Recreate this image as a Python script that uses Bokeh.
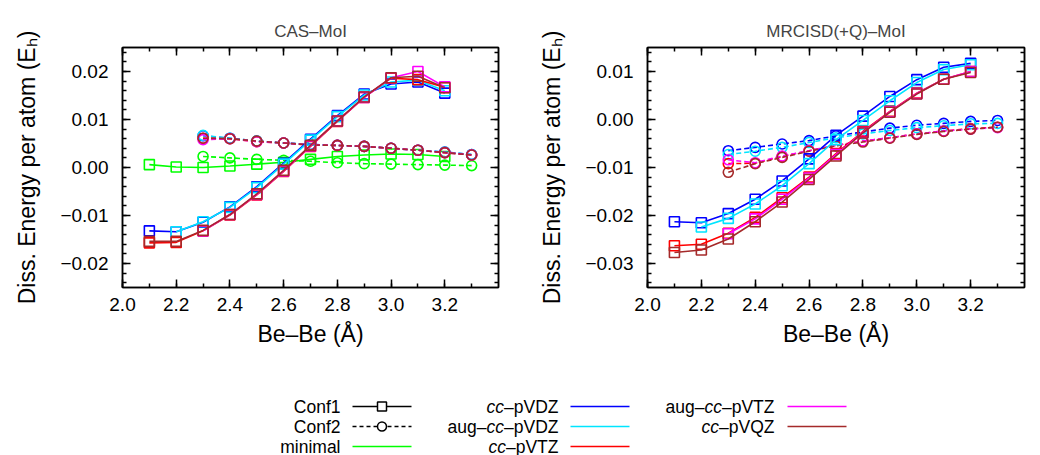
import math
from bokeh.plotting import figure
from bokeh.layouts import column, row
from bokeh.models import (Range1d, LinearAxis, SingleIntervalTicker, CustomJSTickFormatter,
                          CustomLabelingPolicy)
from bokeh.core.properties import value
from bokeh.embed import file_html
from bokeh.resources import INLINE

nan = float("nan")
FONT = "Liberation Sans"

# ---------------- data ----------------
X_CONF1 = [2.1, 2.2, 2.3, 2.4, 2.5, 2.6, 2.7, 2.8, 2.9, 3.0, 3.1, 3.2]
X_CONF2 = [2.3, 2.4, 2.5, 2.6, 2.7, 2.8, 2.9, 3.0, 3.1, 3.2, 3.3]

BASIS = ["cc-pVDZ", "aug-cc-pVDZ", "cc-pVTZ", "aug-cc-pVTZ", "cc-pVQZ"]
BASIS_COLORS = ["#0000ff", "#00e5ff", "#ff0000", "#ff00ff", "#a52a2a"]
MINIMAL_COLOR = "#00ff00"

# CAS-MoI, Conf1
cas_c1_vdz = [-0.0132, -0.0134, -0.0114, -0.0082, -0.0040, 0.0009, 0.0059, 0.0108, 0.0153, 0.0174, 0.0178, 0.0155]
cas_c1_avdz = [nan, -0.0134, -0.0113, -0.0083, -0.0042, 0.0007, 0.0057, 0.0106, 0.0151, 0.0178, 0.0182, 0.0160]
cas_c1_vtz = [-0.0157, -0.0156, -0.0132, -0.0099, -0.0057, -0.0008, 0.0044, 0.0096, 0.0146, 0.0186, 0.0183, 0.0167]
cas_c1_avtz = [nan, nan, -0.0132, -0.0098, -0.0056, -0.0007, 0.0045, 0.0097, 0.0146, 0.0187, 0.0200, 0.0168]
cas_c1_vqz = [-0.0154, -0.0154, -0.0131, -0.0098, -0.0055, -0.0006, 0.0046, 0.0097, 0.0147, 0.0187, 0.0190, 0.0166]
cas_c1_minimal = [0.0006, 0.0001, 0.0000, 0.0003, 0.0007, 0.0011, 0.0017, 0.0023, 0.0026, 0.0028, 0.0027, 0.0023]

# CAS-MoI, Conf2
cas_c2_vdz = [0.0066, 0.0061, 0.0055, 0.0051, 0.0048, 0.0046, 0.0044, 0.0040, 0.0036, 0.0032, 0.0027]
cas_c2_avdz = [0.0067, 0.0061, 0.0055, 0.0051, 0.0048, 0.0046, 0.0044, 0.0040, 0.0036, 0.0032, 0.0027]
cas_c2_vtz = [0.0061, 0.0060, 0.0054, 0.0051, 0.0047, 0.0046, 0.0044, 0.0040, 0.0036, 0.0031, 0.0026]
cas_c2_avtz = [0.0058, 0.0060, 0.0054, 0.0051, 0.0047, 0.0046, 0.0044, 0.0040, 0.0036, 0.0031, 0.0026]
cas_c2_vqz = [0.0061, 0.0060, 0.0055, 0.0051, 0.0047, 0.0046, 0.0044, 0.0040, 0.0036, 0.0031, 0.0026]
cas_c2_minimal = [0.0023, 0.0020, 0.0017, 0.0015, 0.0013, 0.0010, 0.0008, 0.0007, 0.0006, 0.0005, 0.0004]

# MRCISD(+Q)-MoI, Conf1
mr_c1_vdz = [-0.0213, -0.0215, -0.0196, -0.0166, -0.0128, -0.0082, -0.0033, 0.0007, 0.0048, 0.0083, 0.0109, 0.0117]
mr_c1_avdz = [nan, -0.0224, -0.0206, -0.0176, -0.0138, -0.0092, -0.0042, -0.0002, 0.0039, 0.0077, 0.0104, 0.0114]
mr_c1_vtz = [-0.0263, -0.0260, -0.0237, -0.0204, -0.0163, -0.0120, -0.0071, -0.0025, 0.0017, 0.0055, 0.0084, 0.0100]
mr_c1_avtz = [nan, nan, -0.0238, -0.0207, -0.0166, -0.0122, -0.0073, -0.0027, 0.0016, 0.0054, 0.0084, 0.0100]
mr_c1_vqz = [-0.0277, -0.0272, -0.0249, -0.0213, -0.0172, -0.0125, -0.0076, -0.0028, 0.0015, 0.0053, 0.0084, 0.0098]

# MRCISD(+Q)-MoI, Conf2
mr_c2_vdz = [-0.0065, -0.0058, -0.0051, -0.0044, -0.0034, -0.0026, -0.0018, -0.0012, -0.0008, -0.0004, -0.0002]
mr_c2_avdz = [-0.0073, -0.0066, -0.0058, -0.0048, -0.0038, -0.0030, -0.0023, -0.0017, -0.0013, -0.0009, -0.0008]
mr_c2_vtz = [-0.0092, -0.0091, -0.0077, -0.0065, -0.0054, -0.0045, -0.0038, -0.0030, -0.0024, -0.0019, -0.0016]
mr_c2_avtz = [-0.0084, -0.0090, -0.0076, -0.0065, -0.0054, -0.0045, -0.0038, -0.0030, -0.0024, -0.0020, -0.0017]
mr_c2_vqz = [-0.0110, -0.0092, -0.0079, -0.0066, -0.0055, -0.0047, -0.0039, -0.0031, -0.0025, -0.0020, -0.0016]

TITLES = ["CAS\u2013MoI", "MRCISD(+Q)\u2013MoI"]
X_LABEL = "Be\u2013Be (\u00c5)"
Y_LABEL = "Diss. Energy per atom (E\u2095)"

LEGEND_COLUMNS = [
    ["Conf1", "Conf2", "minimal"],
    ["cc-pVDZ", "aug-cc-pVDZ", "cc-pVTZ"],
    ["aug-cc-pVTZ", "cc-pVQZ"],
]

# ---------------- helpers ----------------
YFMT = CustomJSTickFormatter(code="""
if (Math.abs(tick) < 1e-9) { return '0.00'; }
return (tick < 0 ? '\u2212' : '') + Math.abs(tick).toFixed(2);
""")
XFMT = CustomJSTickFormatter(code="return tick.toFixed(1);")
NO_LABELS = CustomLabelingPolicy(code="for (const i of indices) { indices.unset(i) }\nreturn indices")


def style_axis(ax, show_labels):
    ax.axis_line_width = 1.5
    ax.axis_line_color = "black"
    ax.major_tick_in = 8
    ax.major_tick_out = 0
    ax.minor_tick_in = 4
    ax.minor_tick_out = 0
    ax.major_tick_line_width = 1.5
    ax.minor_tick_line_width = 1.5
    ax.major_tick_line_color = "black"
    ax.minor_tick_line_color = "black"
    if show_labels:
        ax.major_label_text_font = FONT
        ax.major_label_text_font_size = "19px"
        ax.major_label_text_color = "black"
        ax.axis_label_text_font = FONT
        ax.axis_label_text_font_size = "23px"
        ax.axis_label_text_font_style = "normal"
        ax.axis_label_text_color = "black"
    else:
        ax.major_label_text_font_size = "1px"
        ax.major_label_standoff = 0
        ax.major_label_policy = NO_LABELS


def build(title, y_start, y_end, conf1, conf2, minimal1, minimal2, mb_left, mb_right):
    p = figure(width=520, height=375, x_range=Range1d(2.0, 3.4), y_range=Range1d(y_start, y_end),
               output_backend="svg", toolbar_location=None,
               min_border_left=mb_left, min_border_right=mb_right,
               min_border_top=47, min_border_bottom=88)
    p.title.text = title
    p.title.text_font = FONT
    p.title.text_font_size = "17px"
    p.title.text_font_style = "normal"
    p.title.align = "center"
    p.title.standoff = 5
    p.grid.visible = False
    p.outline_line_color = "black"
    p.outline_line_width = 1.5
    p.background_fill_color = "white"
    p.border_fill_color = "white"

    p.xaxis.ticker = SingleIntervalTicker(interval=0.2, num_minor_ticks=2)
    p.yaxis.ticker = SingleIntervalTicker(interval=0.01, num_minor_ticks=5)
    p.xaxis.formatter = XFMT
    p.yaxis.formatter = YFMT
    p.xaxis.axis_label = X_LABEL
    p.yaxis.axis_label = Y_LABEL
    for ax in p.xaxis + p.yaxis:
        style_axis(ax, True)
    p.xaxis.major_label_standoff = 10
    p.yaxis.major_label_standoff = 14
    p.xaxis.axis_label_standoff = 7
    p.yaxis.axis_label_standoff = 17

    top = LinearAxis(ticker=SingleIntervalTicker(interval=0.2, num_minor_ticks=2))
    right = LinearAxis(ticker=SingleIntervalTicker(interval=0.01, num_minor_ticks=5))
    style_axis(top, False)
    style_axis(right, False)
    p.add_layout(top, "above")
    p.add_layout(right, "right")

    if minimal1 is not None:
        p.line(X_CONF1, minimal1, line_color=MINIMAL_COLOR, line_width=1.6)
        p.scatter(X_CONF1, minimal1, marker="square", size=10, fill_color=None,
                  line_color=MINIMAL_COLOR, line_width=1.6)
        p.line(X_CONF2, minimal2, line_color=MINIMAL_COLOR, line_width=1.6, line_dash="5 3")
        p.scatter(X_CONF2, minimal2, marker="circle", size=10, fill_color=None,
                  line_color=MINIMAL_COLOR, line_width=1.6)
    for ys, col in zip(conf2, BASIS_COLORS):
        p.line(X_CONF2, ys, line_color=col, line_width=1.6, line_dash="5 3")
        p.scatter(X_CONF2, ys, marker="circle", size=10, fill_color=None,
                  line_color=col, line_width=1.6)
    for ys, col in zip(conf1, BASIS_COLORS):
        p.line(X_CONF1, ys, line_color=col, line_width=1.6)
        p.scatter(X_CONF1, ys, marker="square", size=10, fill_color=None,
                  line_color=col, line_width=1.6)
    return p


left = build(TITLES[0], -0.025, 0.025,
             [cas_c1_vdz, cas_c1_avdz, cas_c1_vtz, cas_c1_avtz, cas_c1_vqz],
             [cas_c2_vdz, cas_c2_avdz, cas_c2_vtz, cas_c2_avtz, cas_c2_vqz],
             cas_c1_minimal, cas_c2_minimal, 122, 22)
rightp = build(TITLES[1], -0.035, 0.015,
               [mr_c1_vdz, mr_c1_avdz, mr_c1_vtz, mr_c1_avtz, mr_c1_vqz],
               [mr_c2_vdz, mr_c2_avdz, mr_c2_vtz, mr_c2_avtz, mr_c2_vqz],
               None, None, 127, 16)

# ---------------- legend (gnuplot style: label, then sample) ----------------
ARIAL_W = {"C": 722, "o": 556, "n": 556, "f": 278, "1": 556, "2": 556, "m": 833, "i": 222,
           "a": 556, "l": 222, "u": 556, "g": 556, "c": 500, "\u2013": 556, "p": 556,
           "V": 667, "D": 722, "T": 611, "Q": 778, "Z": 611}
LFS = 17.5


def text_w(s):
    return sum(ARIAL_W.get(ch, 556) for ch in s) / 1000.0 * LFS


def split_label(lbl):
    lbl = lbl.replace("-", "\u2013")
    parts = []
    rest = lbl
    while "cc" in rest:
        i = rest.index("cc")
        if i > 0:
            parts.append((rest[:i], "normal"))
        parts.append(("cc", "italic"))
        rest = rest[i + 2:]
    if rest:
        parts.append((rest, "normal"))
    return parts


leg = figure(width=1040, height=80, x_range=Range1d(0, 1040), y_range=Range1d(455, 375),
             output_backend="svg", toolbar_location=None, min_border=0,
             x_axis_location=None, y_axis_location=None)
leg.outline_line_color = None
leg.grid.visible = False

col_text_right = [340, 558, 774]
col_line_start = [352, 570, 787]
line_len = 59
row_y = [406, 426, 446]

style_of = {"Conf1": ("black", None, "square"), "Conf2": ("black", "4 3", "circle"),
            "minimal": (MINIMAL_COLOR, None, None)}
for b, c in zip(BASIS, BASIS_COLORS):
    style_of[b] = (c, None, None)

for ci, labels in enumerate(LEGEND_COLUMNS):
    for ri, lbl in enumerate(labels):
        y = row_y[ri]
        xr = col_text_right[ci]
        for part, st in reversed(split_label(lbl)):
            leg.text(x=[xr], y=[y], text=[part], text_align="right", text_baseline="middle",
                     text_font=value(FONT), text_font_size=f"{LFS}px", text_font_style=st,
                     text_color="black")
            xr -= text_w(part)
        color, dash, marker = style_of[lbl]
        x0 = col_line_start[ci]
        kw = dict(line_color=color, line_width=1.5)
        if dash:
            kw["line_dash"] = dash
        leg.line([x0, x0 + line_len], [y, y], **kw)
        if marker:
            leg.scatter([x0 + line_len / 2], [y], marker=marker, size=9, fill_color="white",
                        line_color=color, line_width=1.5)

layout = column(row(left, rightp), leg)
open("out.html", "w").write(file_html(layout, INLINE))
